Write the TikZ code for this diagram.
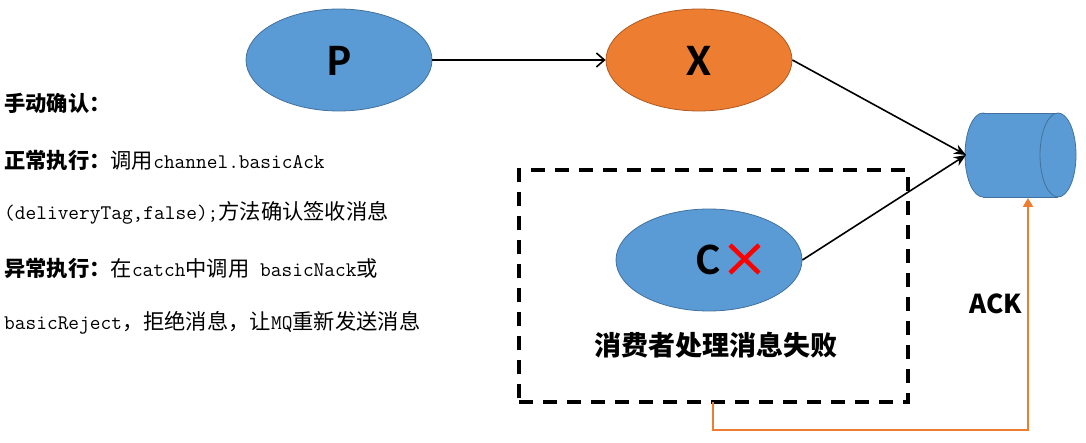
\documentclass[tikz,border=0pt]{standalone}
\usepackage{fontspec}
\usetikzlibrary{arrows.meta,shapes.geometric}
\newfontfamily\cjk{Noto Sans CJK SC}
\newfontfamily\carl{Carlito}
\definecolor{qblue}{HTML}{5B9BD5}
\definecolor{qblueb}{HTML}{41719C}
\definecolor{qorange}{HTML}{ED7D31}
\definecolor{qorangeb}{HTML}{AE5A21}
\newcommand\hb[1]{{\cjk\bfseries #1}}
\newcommand\zr[1]{{\cjk #1}}
\newcommand\mt[1]{{\ttfamily\fontsize{20.8}{24}\selectfont #1}}
\tikzset{
  ell/.style={ellipse, draw=qblueb, fill=qblue, line width=0.8pt, minimum width=186pt, minimum height=102pt, inner sep=0pt},
  ltxt/.style={anchor=west, inner sep=0pt, font=\fontsize{21.3}{24}\selectfont},
  big/.style={inner sep=0pt, font=\carl\bfseries\fontsize{45}{50}\selectfont},
  conn/.style={line width=1.6pt, black},
}
\begin{document}
\begin{tikzpicture}[x=1pt,y=-1pt]
\useasboundingbox (0,0) rectangle (1086,443);
% ellipses
\node[ell] (P) at (339,60) {};
\node[ell, draw=qorangeb, fill=qorange, minimum width=186pt] (X) at (699,60) {};
\node[ell] (C) at (709,260) {};
\node[big] (Pt) at (339,61) {P};
\node[big] (Xt) at (699,61) {X};
\node[big] (Ct) at (708,260) {C};
% red cross
\coordinate (x1) at (730,245);
\coordinate (x2) at (759,273);
\coordinate (x3) at (730,273);
\coordinate (x4) at (759,245);
\draw[red, line width=4.5pt] (x1) -- (x2) (x3) -- (x4);
% queue cylinder
\filldraw[fill=qblue, draw=qblueb, line width=0.8pt] (983,155) ellipse[x radius=18, y radius=42];
\fill[qblue] (983,113) rectangle (1058,197);
\draw[qblueb, line width=0.8pt] (983,113) -- (1058,113) (983,197) -- (1058,197);
\filldraw[fill=qblue, draw=qblueb, line width=0.8pt] (1058,155) ellipse[x radius=18, y radius=42];
\coordinate (q) at (966,155);
\coordinate (qb) at (1028,198);
% dashed box
\node[draw, line width=3.5pt, dash pattern=on 14pt off 10pt, minimum width=389pt, minimum height=232pt, inner sep=0pt] (box) at (713.5,286) {};
\coordinate (boxb) at (713,402);
\node[inner sep=0pt, font=\cjk\bfseries\fontsize{27}{30}\selectfont] (fail) at (716,345) {消费者处理消息失败};
% connectors
\draw[conn, -{Straight Barb[length=8pt,width=14pt,line width=1.6pt]}] (P.east) -- (X.west);
\draw[conn, -{Stealth[length=12pt,width=10pt]}] (X.east) -- (q);
\draw[conn, -{Stealth[length=12pt,width=10pt]}] (C.east) -- (q);
\draw[qorange, line width=2pt, -{Triangle[length=9pt,width=10pt]}] (boxb) -- ++(0,28) -| (qb);
\node[inner sep=0pt, font=\cjk\bfseries\fontsize{26}{28}\selectfont] (ack) at (996,304) {ACK};
% left text
\node[ltxt] (l1) at (4,103) {\hb{手动确认：}};
\node[ltxt] (l2) at (4,160) {\hb{正常执行：}\zr{调用}\mt{channel.basicAck}};
\node[ltxt] (l3) at (4,213) {\mt{(deliveryTag,false);}\zr{方法确认签收消息}};
\node[ltxt] (l4) at (4,268) {\hb{异常执行：}\zr{在}\mt{catch}\zr{中调用}\mt{\ basicNack}\zr{或}};
\node[ltxt] (l5) at (4,323) {\mt{basicReject}\zr{，拒绝消息，让}\mt{MQ}\zr{重新发送消息}};
\end{tikzpicture}
\end{document}
